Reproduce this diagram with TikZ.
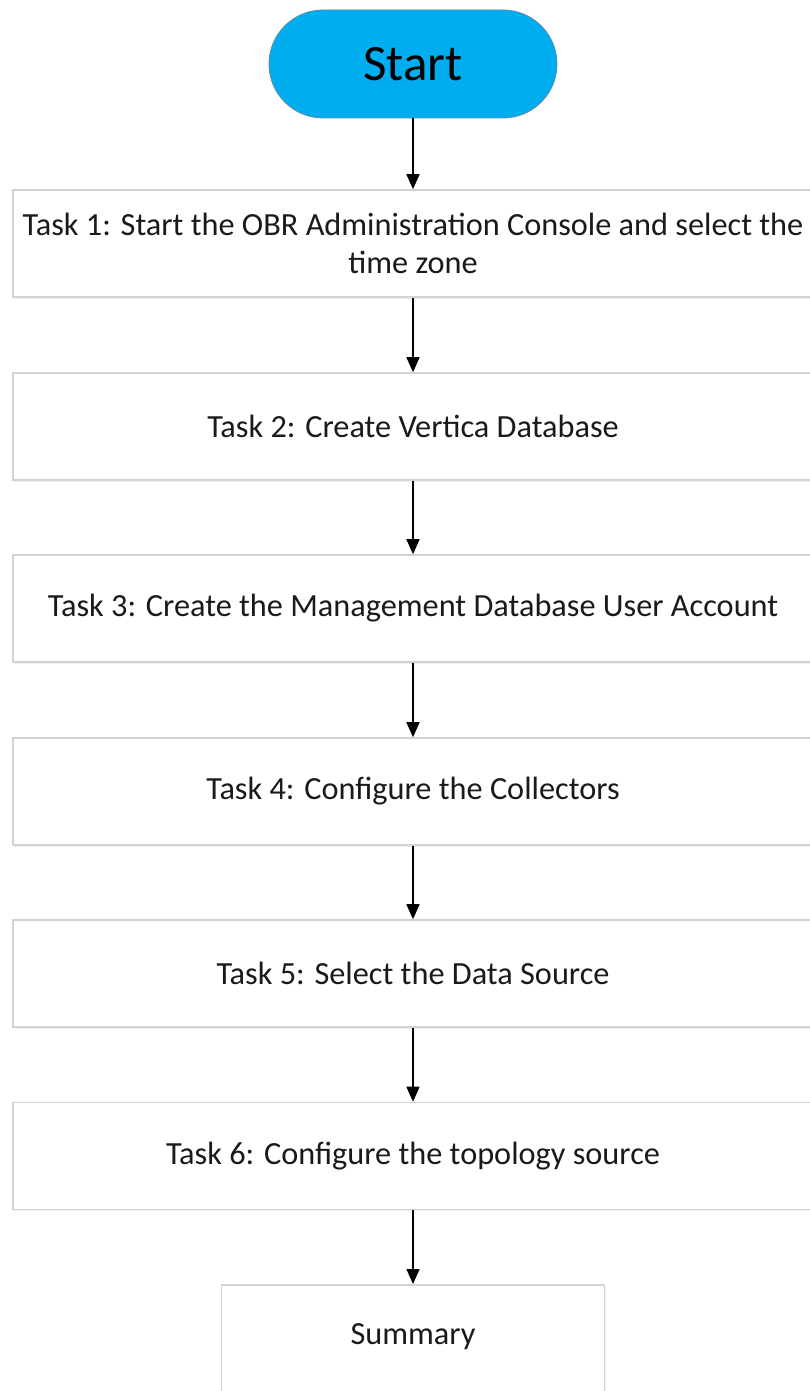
\documentclass[tikz,border=0pt]{standalone}
\usepackage{fontspec}
\setmainfont{Carlito}
\usetikzlibrary{arrows.meta,shadows}
\definecolor{startblue}{HTML}{00ADEF}
\definecolor{startedge}{HTML}{5A8AAE}
\definecolor{boxedge}{HTML}{D2D2D2}
\definecolor{txt}{HTML}{1A1A1A}
\tikzset{
  taskbox/.style={draw=boxedge, line width=1.6pt, fill=white, minimum width=800pt, minimum height=107pt,
    align=center, text=txt, font=\fontsize{32.3}{38}\selectfont, inner sep=0pt,
    drop shadow={opacity=0.12, shadow xshift=1pt, shadow yshift=-1.5pt}},
  startbox/.style={draw=startedge, line width=0.8pt, fill=startblue, rounded corners=54pt,
    minimum width=288pt, minimum height=108pt, text=black, font=\fontsize{51}{55}\selectfont, inner sep=0pt},
  flow/.style={line width=1.5pt, -{Triangle[length=15pt,width=13pt]}}
}
\begin{document}
\begin{tikzpicture}[x=1pt,y=-1pt]
\clip (0,0) rectangle (810,1391);
\fill[white] (0,0) rectangle (810,1391);
\node[startbox] (start) at (413,64) {Start};
\node[taskbox] (t1) at (413,243.5) {Task 1: Start the OBR Administration Console and select the\\time zone};
\node[taskbox] (t2) at (413,426.5) {Task 2: Create Vertica Database};
\node[taskbox] (t3) at (413,608.5) {Task 3: Create the Management Database User Account};
\node[taskbox] (t4) at (413,791.5) {Task 4: Configure the Collectors};
\node[taskbox] (t5) at (413,973.5) {Task 5: Select the Data Source};
\node[taskbox] (t6) at (413,1156) {Task 6: Configure the topology source};
\node[taskbox, minimum width=383pt, minimum height=110pt, anchor=north] (sum) at (413,1284) {\raisebox{11pt}{Summary}};
\draw[flow] (start.south) -- (t1.north);
\draw[flow] (t1) -- (t2);
\draw[flow] (t2) -- (t3);
\draw[flow] (t3) -- (t4);
\draw[flow] (t4) -- (t5);
\draw[flow] (t5) -- (t6);
\draw[flow] (t6) -- (sum);
\end{tikzpicture}
\end{document}
